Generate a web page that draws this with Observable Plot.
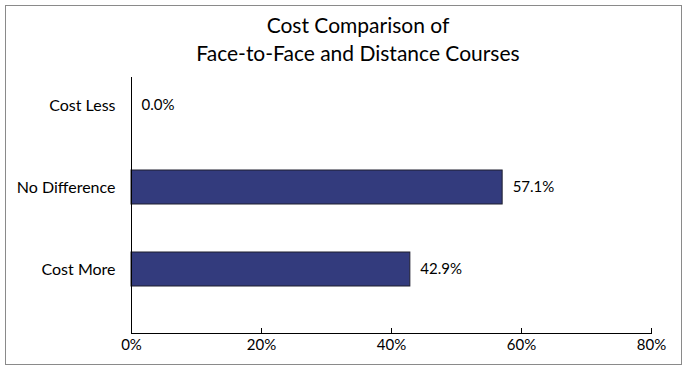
<!DOCTYPE html>
<html>
<head>
<meta charset="utf-8">
<script src="https://cdn.jsdelivr.net/npm/d3@7"></script>
<script src="https://cdn.jsdelivr.net/npm/@observablehq/plot@0.6"></script>
<style>
  html, body { margin: 0; padding: 0; background: #fff; }
  body { position: relative; width: 691px; height: 371px; overflow: hidden; font-family: Lato, "Open Sans", sans-serif; }
  #border { position: absolute; left: 5px; top: 5px; width: 675px; height: 358px; border: 1px solid #8a8a8a; }
  #title { position: absolute; left: 25px; top: 11px; width: 666px; text-align: center; font-size: 21px; line-height: 28px; color: #000; }
  #chart { position: absolute; left: 0; top: 68px; }
  #chart svg { overflow: visible; }
</style>
</head>
<body>
<div id="border"></div>
<div id="title">Cost Comparison of<br>Face-to-Face and Distance Courses</div>
<div id="chart"></div>
<script>
const categories = ["Cost Less", "No Difference", "Cost More"];
const values = [0.0, 57.1, 42.9];
const valueLabels = ["0.0%", "57.1%", "42.9%"];
const xTicks = [0, 20, 40, 60, 80];
const xTickLabels = ["0%", "20%", "40%", "60%", "80%"];

const data = categories.map((c, i) => ({category: c, value: values[i], label: valueLabels[i]}));

const chart = Plot.plot({
  width: 691,
  height: 296,
  marginLeft: 131,
  marginRight: 40,
  marginTop: 9,
  marginBottom: 31,
  style: {fontFamily: "Lato, 'Open Sans', sans-serif", fontSize: "15px", color: "#000", background: "transparent"},
  x: {domain: [0, 80], ticks: xTicks},
  y: {domain: categories, range: [-4, 242], paddingInner: 0.59, paddingOuter: 0.295, align: 0.5},
  marks: [
    Plot.barX(data, {x: "value", y: "category", fill: "#333b7d", stroke: "#1e1e2e", strokeWidth: 1}),
    Plot.text(data, {x: "value", y: "category", text: "label", textAnchor: "start", dx: 10, fontSize: 15, fill: "#000"}),
    Plot.ruleX([0], {stroke: "#000", strokeWidth: 1}),
    Plot.frame({anchor: "bottom", stroke: "#000", strokeWidth: 1}),
    Plot.tickX(xTicks, {x: d => d, stroke: "#000", insetTop: 251}),
    Plot.axisX({ticks: xTicks, tickSize: 0, tickPadding: 6, tickFormat: (d) => xTickLabels[xTicks.indexOf(d)], fontSize: 15, fill: "#000", label: null}),
    Plot.axisY({tickSize: 0, tickPadding: 16, fontSize: 16, fill: "#000", label: null})
  ]
});
document.getElementById("chart").appendChild(chart);
</script>
</body>
</html>
